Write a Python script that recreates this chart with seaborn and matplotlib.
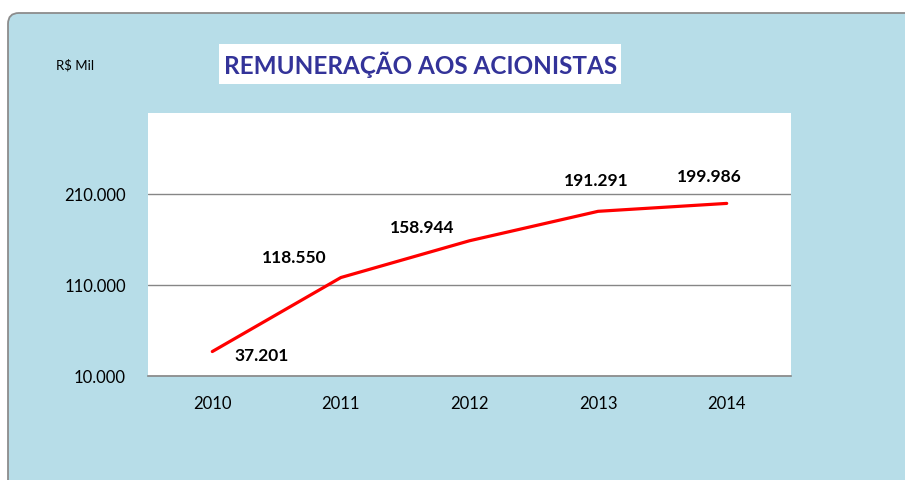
import matplotlib
matplotlib.use("Agg")
import matplotlib.pyplot as plt
import matplotlib.patches as mpatches
import matplotlib.ticker as mticker
import seaborn as sns
import pandas as pd

# ---- data ----
years = ["2010", "2011", "2012", "2013", "2014"]
values = [37201, 118550, 158944, 191291, 199986]
value_labels = ["37.201", "118.550", "158.944", "191.291", "199.986"]
y_ticks = [10000, 110000, 210000]
title = "REMUNERAÇÃO AOS ACIONISTAS"
unit_label = "R$ Mil"

df = pd.DataFrame({"ano": years, "valor": values})

sns.set_theme(style="white")
plt.rcParams["font.family"] = ["Lato", "DejaVu Sans"]

W, H = 905, 480
fig = plt.figure(figsize=(W / 100, H / 100), dpi=100)
fig.patch.set_facecolor("white")

bg = "#b7dde8"
# outer panel with rounded corner
panel = mpatches.FancyBboxPatch((8 / W, -20 / H), (W + 20 - 8) / W, (H - 13 + 20) / H,
                                boxstyle="round,pad=0,rounding_size=0.012",
                                transform=fig.transFigure, facecolor=bg,
                                edgecolor="#8c8c8c", linewidth=1.3, zorder=-10,
                                mutation_aspect=W / H)
fig.patches.append(panel)

# plot area
x0, x1 = 148, 791
yt, yb = 113.3, 376.3
ax = fig.add_axes([x0 / W, (H - yb) / H, (x1 - x0) / W, (yb - yt) / H])
ax.set_facecolor("white")

sns.lineplot(data=df, x="ano", y="valor", ax=ax, color="#ff0000", linewidth=2.3,
             sort=False, legend=False)

ax.set_xlim(-0.5, len(years) - 0.5)
ax.set_ylim(10000, 299000)
ax.set_yticks(y_ticks)
ax.yaxis.set_major_formatter(mticker.FuncFormatter(lambda v, p: f"{int(v):,}".replace(",", ".")))
ax.set_xlabel("")
ax.set_ylabel("")
for s in ["top", "right", "left"]:
    ax.spines[s].set_visible(False)
ax.spines["bottom"].set_color("#868686")
ax.spines["bottom"].set_linewidth(1.2)
ax.grid(axis="y", color="#868686", linewidth=1.0)
ax.grid(axis="x", visible=False)
ax.tick_params(axis="y", length=0, pad=16, labelsize=12, labelcolor="black")
ax.tick_params(axis="x", length=0, pad=14, labelsize=12, labelcolor="black")

# data labels (offsets in pixels from each point)
offsets = [(49, -4), (-47, 20), (-47, 13), (-2, 30), (-17, 26)]
for i, (v, lab, off) in enumerate(zip(values, value_labels, offsets)):
    ax.annotate(lab, xy=(i, v), xytext=off, textcoords="offset pixels",
                ha="center", va="center", fontsize=12.5, fontweight="bold",
                color="black")

# title with white box
box = mpatches.Rectangle((219 / W, (H - 84) / H), (621 - 219) / W, 40 / H,
                         transform=fig.transFigure, facecolor="white",
                         edgecolor="none", zorder=1)
fig.patches.append(box)
fig.text(421 / W, (H - 65) / H, title, ha="center", va="center",
         fontsize=17.5, fontweight="bold", color="#333399", zorder=2)

fig.text(75 / W, (H - 65) / H, unit_label, ha="center", va="center",
         fontsize=9.5, color="black")

fig.savefig("out.png", dpi=100, facecolor=fig.get_facecolor())
